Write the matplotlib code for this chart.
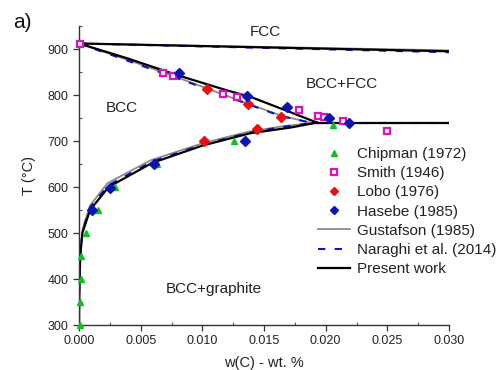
import matplotlib
matplotlib.use("Agg")
import matplotlib.pyplot as plt
from matplotlib.ticker import MultipleLocator, FormatStrFormatter

plt.rcParams['font.family'] = ['Liberation Sans', 'DejaVu Sans']

# ---- experimental data: carbon content (wt. fraction) and temperature (deg C)
chipman_w = [0.00005, 0.0001, 0.00015, 0.0002, 0.0006, 0.0015, 0.0029, 0.0063, 0.0126, 0.0206]
chipman_T = [300, 350, 400, 450, 500, 550, 600, 650, 700, 735]

smith_w = [0.0001, 0.0068, 0.0076, 0.0117, 0.0128, 0.0178, 0.0194, 0.0199, 0.0214, 0.0250]
smith_T = [911, 848, 841, 802, 796, 767, 754, 752, 743, 722]

lobo_w = [0.0104, 0.0137, 0.0164, 0.0101, 0.0144]
lobo_T = [813, 780, 752, 700, 726]

hasebe_w = [0.0081, 0.0136, 0.0169, 0.0203, 0.0219, 0.0135, 0.0061, 0.0025, 0.00105]
hasebe_T = [848, 798, 774, 750, 739, 700, 650, 598, 550]

# ---- calculated phase boundaries
# Present work
pw_top_w = [0.0, 0.030]
pw_top_T = [912, 895]
pw_bcc_w = [0.0, 0.004, 0.008, 0.012, 0.0139, 0.0171, 0.0193]
pw_bcc_T = [912, 879, 843, 810, 796, 763, 740]
pw_eut_w = [0.0193, 0.030]
pw_eut_T = [740, 740]
pw_sol_w = [0.0, 0.00002, 0.00005, 0.0001, 0.00027, 0.0009, 0.0024, 0.0059, 0.0100, 0.0139, 0.0171, 0.0193]
pw_sol_T = [300, 350, 400, 450, 500, 550, 600, 652, 690, 717, 729, 740]

# Gustafson (1985)
gu_top_w = [0.0, 0.030]
gu_top_T = [912, 897]
gu_bcc_w = [0.0, 0.004, 0.008, 0.011, 0.0137, 0.0164, 0.0189]
gu_bcc_T = [912, 876, 838, 808, 781, 755, 739]
gu_eut_w = [0.0189, 0.030]
gu_eut_T = [740, 740]
gu_sol_w = [0.0, 0.00002, 0.0001, 0.0003, 0.0009, 0.0023, 0.0058, 0.0100, 0.0137, 0.0165, 0.0189]
gu_sol_T = [300, 400, 450, 510, 560, 608, 658, 695, 720, 732, 739]

# Naraghi et al. (2014)
na_top_w = [0.0, 0.030]
na_top_T = [912, 893]
na_bcc_w = [0.0, 0.004, 0.008, 0.011, 0.0137, 0.0164, 0.0189]
na_bcc_T = [912, 874, 836, 807, 780, 754, 739]
na_eut_w = [0.0189, 0.030]
na_eut_T = [740, 740]
na_sol_w = [0.0, 0.00002, 0.0001, 0.0003, 0.0009, 0.0024, 0.0059, 0.0100, 0.0138, 0.0166, 0.0189]
na_sol_T = [300, 400, 450, 505, 556, 604, 655, 692, 718, 731, 739]

# phase-field labels
regions = ["FCC", "BCC", "BCC+FCC", "BCC+graphite"]
region_w = [0.0151, 0.0035, 0.0213, 0.0109]
region_T = [937, 772, 824, 378]

fig = plt.figure(figsize=(4.99, 3.70), dpi=100)
ax = fig.add_axes([79 / 499, 1 - 325 / 370, 370 / 499, 299 / 370])

gray = '#8a8a8a'
navy = '#1010c8'
dash_kw = dict(color=navy, lw=1.5, dashes=(3.5, 4.5))

# Gustafson
ax.plot(gu_top_w, gu_top_T, color=gray, lw=1.3)
ax.plot(gu_bcc_w, gu_bcc_T, color=gray, lw=1.3)
ax.plot(gu_eut_w, gu_eut_T, color=gray, lw=1.3)
h_gu, = ax.plot(gu_sol_w, gu_sol_T, color=gray, lw=1.3, label='Gustafson (1985)')
# Naraghi
ax.plot(na_top_w, na_top_T, **dash_kw)
ax.plot(na_bcc_w, na_bcc_T, **dash_kw)
ax.plot(na_eut_w, na_eut_T, **dash_kw)
h_na, = ax.plot(na_sol_w, na_sol_T, label='Naraghi et al. (2014)', **dash_kw)
# Present work
ax.plot(pw_top_w, pw_top_T, color='black', lw=1.6)
ax.plot(pw_bcc_w, pw_bcc_T, color='black', lw=1.6)
ax.plot(pw_eut_w, pw_eut_T, color='black', lw=1.6)
h_pw, = ax.plot(pw_sol_w, pw_sol_T, color='black', lw=1.6, label='Present work')

# experiments
h_ch, = ax.plot(chipman_w, chipman_T, ls='none', marker='^', ms=5, color='#10c020',
                mec='#10c020', label='Chipman (1972)', clip_on=False, zorder=5)
h_sm, = ax.plot(smith_w, smith_T, ls='none', marker='s', ms=4.6, mfc='white',
                mec='#e010c0', mew=1.6, label='Smith (1946)', clip_on=False, zorder=5)
h_lo, = ax.plot(lobo_w, lobo_T, ls='none', marker='D', ms=5, color='#e81010',
                label='Lobo (1976)', zorder=5)
h_ha, = ax.plot(hasebe_w, hasebe_T, ls='none', marker='D', ms=5, color='#0a14b4',
                label='Hasebe (1985)', zorder=6)

for name, w, T in zip(regions, region_w, region_T):
    ax.text(w, T, name, ha='center', va='center', fontsize=11, color='#222222')

ax.set_xlim(0, 0.030)
ax.set_ylim(300, 950)
ax.xaxis.set_major_locator(MultipleLocator(0.005))
ax.xaxis.set_minor_locator(MultipleLocator(0.0025))
ax.xaxis.set_major_formatter(FormatStrFormatter('%.3f'))
ax.yaxis.set_major_locator(MultipleLocator(100))
ax.yaxis.set_minor_locator(MultipleLocator(50))
for s in ('top', 'right'):
    ax.spines[s].set_visible(False)
for s in ('left', 'bottom'):
    ax.spines[s].set_color('#333333')
    ax.spines[s].set_linewidth(1.0)
ax.tick_params(which='major', direction='out', length=4, width=0.9, colors='#333333',
               labelsize=9, labelcolor='#222222')
ax.tick_params(which='minor', direction='in', length=2.5, width=0.8, colors='#555555')

ax.set_xlabel('w(C) - wt. %', fontsize=10.5, color='#222222', labelpad=6)
ax.set_ylabel('T (°C)', fontsize=10.5, color='#222222', labelpad=8)

fig.text(22 / 499, 1 - 22 / 370, 'a)', fontsize=15, ha='center', va='center', color='#111111')

handles = [h_ch, h_sm, h_lo, h_ha, h_gu, h_na, h_pw]
labels = [h.get_label() for h in handles]
leg = ax.legend(handles, labels, loc='upper left', bbox_to_anchor=(318 / 499, 1 - 147 / 370),
                bbox_transform=fig.transFigure, frameon=False, fontsize=11,
                handlelength=2.1, handletextpad=0.45, labelspacing=0.34,
                borderpad=0, borderaxespad=0, numpoints=1, markerscale=0.9)
for t in leg.get_texts():
    t.set_color('#222222')

fig.savefig('out.png', dpi=100)
